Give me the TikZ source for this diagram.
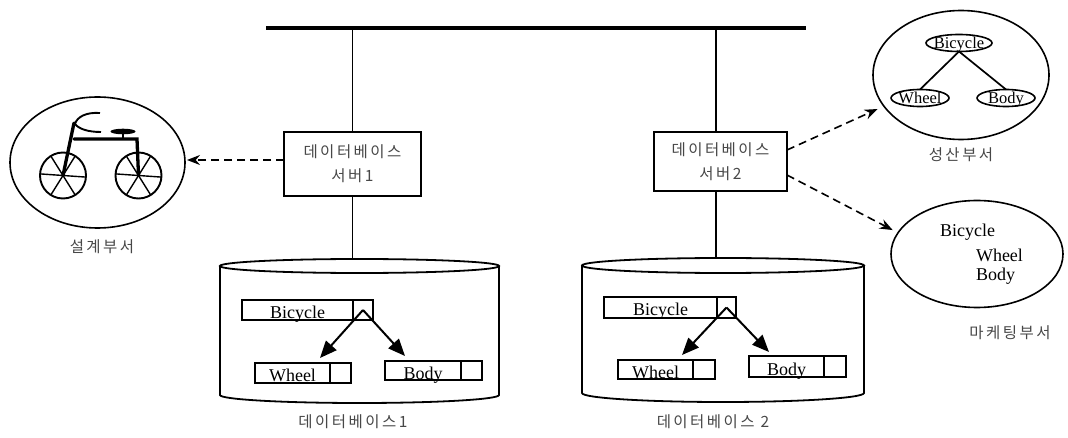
\documentclass[tikz,border=0pt]{standalone}
\usepackage{fontspec}
\setmainfont{Liberation Serif}
\newfontfamily\hangul[LetterSpace=16]{Noto Sans CJK KR}
\usetikzlibrary{arrows.meta,shapes.geometric}
% text of zero size, so an oval keeps the size it is given
\newcommand\ovaltext[1]{\makebox[0pt]{\raisebox{-0.33em}[0pt][0pt]{#1}}}
\begin{document}
\begin{tikzpicture}[x=1pt,y=-1pt,
  every node/.style={inner sep=0pt, outer sep=0pt},
  krtext/.style={font=\hangul\fontsize{15.5}{24}\selectfont, text=black!72},
  serverbox/.style={draw, line width=1.8pt, krtext, align=center},
  wire/.style={line width=1.8pt},
  dbside/.style={line width=1.8pt},
  dbtop/.style={draw, ellipse, line width=1.8pt},
  recbox/.style={draw, line width=1.5pt, anchor=north west,
    font=\fontsize{18}{18}\selectfont, text height=17pt, text depth=0pt},
  ptrcell/.style={draw, line width=1.5pt, anchor=north west},
  ptrarrow/.style={line width=2pt, -{Triangle[length=17pt,width=14pt]}},
  dashlink/.style={line width=1.6pt, dash pattern=on 8pt off 5pt,
    -{Stealth[length=13pt,width=10pt]}},
  dept/.style={draw, ellipse, line width=1.6pt},
  oval/.style={draw, ellipse, line width=1.6pt, font=\fontsize{16.5}{16.5}\selectfont},
  listtext/.style={font=\fontsize{18}{18}\selectfont, anchor=base west},
  spoke/.style={line width=1.4pt},
  bikeframe/.style={line width=3.3pt, line cap=round},
]
\useasboundingbox (0,0) rectangle (1068,438);

% network bus
\coordinate (busL) at (266,28);
\coordinate (busR) at (806,28);
\draw[line width=4.5pt] (busL) -- (busR);

% database servers
\node[serverbox, minimum width=137pt, minimum height=64pt] (srv1) at (352.5,164) {데이터베이스\\서버1};
\node[serverbox, minimum width=133pt, minimum height=59pt] (srv2) at (720.5,161.5) {데이터베이스\\서버2};
\draw[wire] (srv1.north |- busL) -- (srv1.north);
\draw[wire] ([xshift=-4.5pt]srv2.north |- busL) -- ([xshift=-4.5pt]srv2.north);

% database 1 (cylinder)
\node[dbtop, minimum width=279pt, minimum height=14pt] (db1) at (359.5,266) {};
\draw[dbside] (db1.west) -- ++(0,129)
  arc[start angle=180, end angle=360, x radius=139.5pt, y radius=8pt] -- (db1.east);
\draw[wire] (srv1.south) -- (srv1.south |- db1.north);

% database 2 (cylinder)
\node[dbtop, minimum width=282pt, minimum height=15pt] (db2) at (723,265.5) {};
\draw[dbside] (db2.west) -- ++(0,127.5)
  arc[start angle=180, end angle=360, x radius=141pt, y radius=9pt] -- (db2.east);
\draw[wire] ([xshift=-4.5pt]srv2.south) -- ([xshift=-4.5pt]srv2.south |- db2.north);

% records in database 1
\node[recbox, minimum width=111pt, minimum height=20pt] (bic1) at (242,300) {Bicycle};
\node[ptrcell, minimum width=20pt, minimum height=20pt] (bic1p) at (bic1.north east) {};
\node[recbox, minimum width=75pt, minimum height=20pt] (whl1) at (255,363) {Wheel};
\node[ptrcell, minimum width=21pt, minimum height=20pt] (whl1p) at (whl1.north east) {};
\node[recbox, minimum width=76pt, minimum height=19pt] (bdy1) at (385,361) {Body};
\node[ptrcell, minimum width=21pt, minimum height=19pt] (bdy1p) at (bdy1.north east) {};
\draw[ptrarrow] (bic1p.center) -- ([xshift=65pt,yshift=5pt]whl1.north west);
\draw[ptrarrow] (bic1p.center) -- ([xshift=20pt,yshift=5pt]bdy1.north west);

% records in database 2
\node[recbox, minimum width=113pt, minimum height=21pt] (bic2) at (604,297) {Bicycle};
\node[ptrcell, minimum width=19pt, minimum height=21pt] (bic2p) at (bic2.north east) {};
\node[recbox, minimum width=75pt, minimum height=19pt] (whl2) at (618,360) {Wheel};
\node[ptrcell, minimum width=22pt, minimum height=19pt] (whl2p) at (whl2.north east) {};
\node[recbox, minimum width=75pt, minimum height=21pt] (bdy2) at (749,356) {Body};
\node[ptrcell, minimum width=22pt, minimum height=21pt] (bdy2p) at (bdy2.north east) {};
\draw[ptrarrow] (bic2p.center) -- ([xshift=64pt,yshift=5pt]whl2.north west);
\draw[ptrarrow] (bic2p.center) -- ([xshift=20pt,yshift=4pt]bdy2.north west);

\node[krtext] (db1lbl) at (353,422) {데이터베이스1};
\node[krtext] (db2lbl) at (713,422) {데이터베이스 2};

% design department: a bicycle drawing
\node[dept, minimum width=175pt, minimum height=131pt] (design) at (97.5,162.5) {};
\node[krtext] (designlbl) at (102,247) {설계부서};
\foreach \cx in {63,138.5}{
  \draw[line width=1.9pt] (\cx,175.5) circle[radius=23pt];
  \foreach \a in {-4,58,122}
    \draw[spoke] (\cx,175.5) ++(\a:23pt) -- ++(\a+180:46pt);
}
\draw[bikeframe] (63,175.5) -- (74,123);
\draw[bikeframe] (74,139) -- (137,139) -- (138.5,175.5);
\draw[line width=1.9pt] (100,113) .. controls (86,112) and (77,117) .. (75,124)
  .. controls (79,129) and (88,132) .. (101,132);
\fill (123,131.5) ellipse[x radius=12.5pt, y radius=2.8pt];
\draw[line width=2.2pt] (123,132) -- (123,139);

% production department: object tree
\node[dept, minimum width=176pt, minimum height=129pt] (prod) at (961,75) {};
\node[oval, minimum width=66pt, minimum height=17pt] (pbic) at (959,43) {\ovaltext{Bicycle}};
\node[oval, minimum width=58pt, minimum height=17pt] (pwhl) at (920,98) {\ovaltext{Wheel}};
\node[oval, minimum width=58pt, minimum height=17pt] (pbdy) at (1006,98) {\ovaltext{Body}};
\draw[line width=1.7pt] (pbic.south) -- (pwhl.north);
\draw[line width=1.7pt] (pbic.south) -- (pbdy.north);
\node[krtext] (prodlbl) at (961,155) {성산부서};

% marketing department: plain list
\node[dept, minimum width=172pt, minimum height=107pt] (mkt) at (977,254) {};
\node[listtext] (mbic) at (940,237) {Bicycle};
\node[listtext] (mwhl) at (976,262) {Wheel};
\node[listtext] (mbdy) at (976,281) {Body};
\node[krtext] (mktlbl) at (1010,333) {마케팅부서};

% views delivered by the servers
\draw[dashlink, shorten >=2pt] ([yshift=4pt]srv1.west) -- ([yshift=2.5pt]design.east);
\draw[dashlink, shorten >=7pt] ([yshift=11.5pt]srv2.east) -- (prod.202);
\draw[dashlink, shorten >=6pt] ([yshift=-13.5pt]srv2.east) -- (mkt.165);
\end{tikzpicture}
\end{document}
